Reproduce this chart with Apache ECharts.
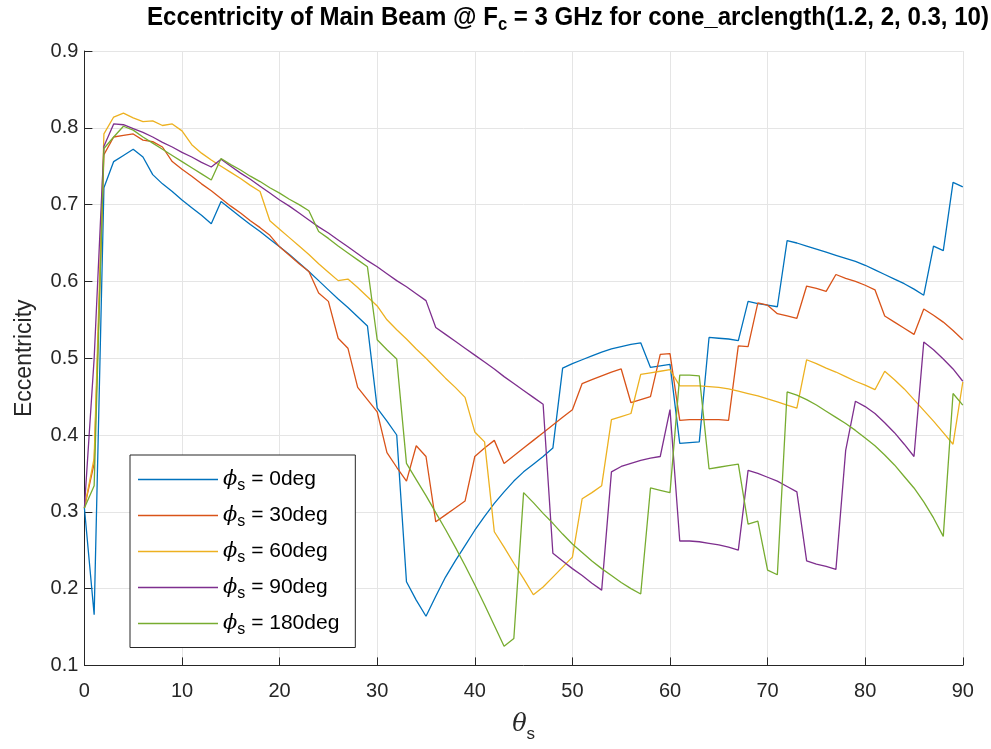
<!DOCTYPE html>
<html><head><meta charset="utf-8">
<script src="https://cdn.jsdelivr.net/npm/echarts@6/dist/echarts.min.js"></script>
<style>html,body{margin:0;padding:0;background:#fff}#c{width:991px;height:749px}</style>
</head><body><div id="c"></div>
<script>
// theta_s samples (deg)
const theta = Array.from({length: 91}, (_, i) => i);
const seriesNames = ['0deg', '30deg', '60deg', '90deg', '180deg'];
const colors = ['#0072BD', '#D95319', '#EDB120', '#7E2F8E', '#77AC30'];
const xTicks = [0, 10, 20, 30, 40, 50, 60, 70, 80, 90];
const yTicks = [0.1, 0.2, 0.3, 0.4, 0.5, 0.6, 0.7, 0.8, 0.9];

const phi0 = [0.305,0.166,0.722,0.756,0.764,0.772,0.762,0.739,0.727,0.717,
0.706,0.696,0.686,0.675,0.704,0.694,0.684,0.674,0.665,0.655,
0.645,0.635,0.624,0.613,0.601,0.589,0.577,0.566,0.554,0.542,
0.435,0.418,0.400,0.209,0.185,0.164,0.190,0.215,0.236,0.256,
0.276,0.294,0.311,0.326,0.340,0.352,0.362,0.372,0.383,0.487,
0.493,0.498,0.503,0.508,0.512,0.515,0.518,0.520,0.488,0.490,
0.492,0.389,0.390,0.391,0.527,0.526,0.525,0.523,0.574,0.571,
0.569,0.567,0.653,0.650,0.646,0.642,0.638,0.634,0.630,0.626,
0.621,0.615,0.609,0.603,0.597,0.590,0.582,0.646,0.640,0.729,
0.723];
const phi30 = [0.305,0.363,0.765,0.788,0.790,0.792,0.784,0.782,0.775,0.756,
0.746,0.737,0.727,0.718,0.708,0.698,0.689,0.679,0.670,0.660,
0.645,0.634,0.623,0.613,0.585,0.574,0.526,0.513,0.462,0.446,
0.430,0.377,0.358,0.340,0.386,0.372,0.287,0.296,0.305,0.314,
0.372,0.383,0.393,0.363,0.373,0.383,0.393,0.403,0.413,0.423,
0.433,0.467,0.472,0.477,0.482,0.486,0.442,0.446,0.450,0.505,
0.506,0.419,0.420,0.420,0.420,0.420,0.419,0.516,0.515,0.572,
0.569,0.558,0.555,0.552,0.594,0.591,0.587,0.609,0.604,0.600,
0.595,0.589,0.555,0.547,0.539,0.531,0.564,0.556,0.547,0.536,
0.524];
const phi60 = [0.305,0.370,0.792,0.814,0.819,0.813,0.808,0.809,0.803,0.805,
0.796,0.778,0.767,0.758,0.750,0.742,0.734,0.725,0.717,0.679,
0.668,0.657,0.646,0.635,0.623,0.612,0.601,0.603,0.592,0.580,
0.568,0.550,0.537,0.525,0.512,0.500,0.487,0.474,0.462,0.449,
0.404,0.391,0.274,0.254,0.233,0.213,0.192,0.202,0.215,0.228,
0.241,0.317,0.325,0.334,0.420,0.424,0.428,0.479,0.481,0.483,
0.485,0.464,0.464,0.464,0.463,0.462,0.460,0.457,0.454,0.451,
0.447,0.443,0.439,0.435,0.498,0.493,0.487,0.482,0.476,0.470,
0.465,0.459,0.483,0.472,0.460,0.446,0.432,0.418,0.403,0.388,
0.469];
const phi90 = [0.305,0.500,0.776,0.805,0.804,0.799,0.794,0.788,0.781,0.775,
0.768,0.762,0.755,0.749,0.759,0.750,0.741,0.733,0.724,0.715,
0.706,0.698,0.689,0.680,0.671,0.663,0.654,0.645,0.636,0.627,
0.619,0.610,0.601,0.593,0.584,0.575,0.540,0.531,0.522,0.513,
0.504,0.495,0.486,0.476,0.467,0.458,0.449,0.440,0.246,0.236,
0.226,0.217,0.207,0.198,0.352,0.359,0.363,0.367,0.370,0.372,
0.433,0.262,0.262,0.261,0.259,0.257,0.254,0.250,0.354,0.350,
0.345,0.340,0.333,0.326,0.236,0.232,0.229,0.225,0.380,0.444,
0.437,0.428,0.416,0.403,0.388,0.372,0.521,0.511,0.499,0.486,
0.470];
const phi180 = [0.305,0.334,0.773,0.788,0.802,0.797,0.788,0.780,0.772,0.764,
0.756,0.748,0.740,0.732,0.760,0.752,0.745,0.737,0.730,0.722,
0.715,0.707,0.700,0.692,0.665,0.656,0.646,0.637,0.628,0.619,
0.524,0.511,0.499,0.363,0.342,0.321,0.299,0.277,0.254,0.230,
0.205,0.179,0.152,0.125,0.135,0.325,0.312,0.298,0.285,0.271,
0.258,0.247,0.236,0.226,0.217,0.208,0.200,0.193,0.331,0.328,
0.325,0.478,0.478,0.477,0.356,0.358,0.360,0.362,0.284,0.288,
0.224,0.218,0.456,0.452,0.446,0.439,0.431,0.423,0.415,0.406,
0.396,0.386,0.374,0.361,0.346,0.331,0.313,0.292,0.268,0.454,
0.439];
const allData = [phi0, phi30, phi60, phi90, phi180];

const chart = echarts.init(document.getElementById('c'), null, {renderer: 'canvas'});
const FONT = 'Liberation Sans, Arial, Helvetica, sans-serif';
const SERIF = 'DejaVu Serif, Liberation Serif, serif';
const axisColor = '#262626';

const series = allData.map((d, k) => ({
  name: seriesNames[k],
  type: 'line',
  data: theta.map((t, i) => [t, d[i]]),
  symbol: 'none',
  showSymbol: false,
  lineStyle: {width: 1.3, color: colors[k]},
  itemStyle: {color: colors[k]},
  animation: false,
  z: 3
}));

chart.setOption({
  animation: false,
  backgroundColor: '#fff',
  graphic: [{
    type: 'text',
    x: 147, y: 1,
    scaleX: 0.925,
    z: 10,
    style: {
      text: '{b|Eccentricity of Main Beam @ F}{sub|c}{b| = 3 GHz for cone_arclength(1.2, 2, 0.3, 10)}',
      align: 'left', verticalAlign: 'top',
      rich: {
        b: {fontFamily: FONT, fontWeight: 'bold', fontSize: 26, fill: '#000', color: '#000'},
        sub: {fontFamily: FONT, fontWeight: 'bold', fontSize: 18, fill: '#000', color: '#000', padding: [15, 0, 0, 0]}
      }
    }
  }],
  grid: {left: 84.4, right: 28.2, top: 51, bottom: 83.6, containLabel: false, show: false},
  legend: {
    orient: 'vertical',
    left: 130, top: 455,
    itemWidth: 80, itemHeight: 1.5, itemGap: 11.5,
    backgroundColor: '#fff',
    borderColor: axisColor, borderWidth: 1, borderRadius: 0,
    padding: [14, 16, 10, 8],
    data: seriesNames.map((n, k) => ({name: n, icon: 'rect', itemStyle: {color: colors[k]}})),
    formatter: n => '{p|ϕ}{s|s}{t| = ' + n + '}',
    textStyle: {
      rich: {
        p: {fontFamily: SERIF, fontStyle: 'italic', fontSize: 21, color: '#000'},
        s: {fontFamily: FONT, fontSize: 16, color: '#000', padding: [12, 0, 0, 0]},
        t: {fontFamily: FONT, fontSize: 21, color: '#000'}
      }
    },
    selectedMode: false
  },
  xAxis: {
    type: 'value', min: 0, max: 90, interval: 10,
    name: '{t|θ}{s|s}', nameLocation: 'middle', nameGap: 42,
    nameTextStyle: {
      rich: {
        t: {fontFamily: SERIF, fontStyle: 'italic', fontSize: 24, color: '#262626'},
        s: {fontFamily: FONT, fontSize: 17, color: '#262626', padding: [18, 0, 0, 0]}
      }
    },
    axisLine: {show: true, onZero: false, lineStyle: {color: axisColor, width: 1}},
    axisTick: {show: true, inside: true, length: 8, lineStyle: {color: axisColor}},
    axisLabel: {fontFamily: FONT, fontSize: 20, color: axisColor, margin: 16,
      formatter: v => xTicks.includes(v) ? String(v) : ''},
    splitLine: {show: true, lineStyle: {color: '#e5e5e5', width: 1}}
  },
  yAxis: {
    type: 'value', min: 0.1, max: 0.9, interval: 0.1,
    name: 'Eccentricity', nameLocation: 'middle', nameGap: 48,
    nameTextStyle: {fontFamily: FONT, fontSize: 23, color: axisColor},
    axisLine: {show: true, onZero: false, lineStyle: {color: axisColor, width: 1}},
    axisTick: {show: true, inside: true, length: 8, lineStyle: {color: axisColor}},
    axisLabel: {fontFamily: FONT, fontSize: 20, color: axisColor, margin: 6,
      formatter: v => {const r = Math.round(v * 10) / 10; return yTicks.includes(r) ? r.toFixed(1) : '';}},
    splitLine: {show: true, lineStyle: {color: '#e5e5e5', width: 1}}
  },
  series: series
});
</script></body></html>
